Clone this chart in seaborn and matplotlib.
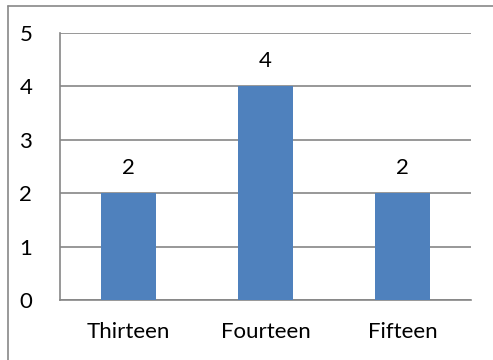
import matplotlib
matplotlib.use("Agg")
import matplotlib.pyplot as plt
import seaborn as sns
import pandas as pd
from matplotlib.lines import Line2D

categories = ["Thirteen", "Fourteen", "Fifteen"]
values = [2, 4, 2]
yticks = [0, 1, 2, 3, 4, 5]

sns.set_theme(style="white")
plt.rcParams['font.family'] = ['Lato', 'DejaVu Sans']

df = pd.DataFrame({"cat": categories, "val": values})

fig = plt.figure(figsize=(4.93, 3.6), dpi=100)
ax = fig.add_axes([60/493, 1-300/360, 411/493, 267/360])

sns.barplot(data=df, x="cat", y="val", color="#4F81BD", saturation=1, width=0.4,
            linewidth=0, edgecolor="none", ax=ax, zorder=3)

grey = "#868686"
fs = 16
ax.set_ylim(0, 5)
ax.set_xlim(-0.5, len(categories) - 0.5)
ax.set_yticks(yticks)
ax.set_yticklabels([str(t) for t in yticks])
ax.yaxis.grid(True, color=grey, lw=1.2, zorder=0)
ax.set_axisbelow(True)
ax.set_xlabel("")
ax.set_ylabel("")
for s in ["top", "right"]:
    ax.spines[s].set_visible(False)
for s in ["left", "bottom"]:
    ax.spines[s].set_color(grey)
    ax.spines[s].set_linewidth(1.2)

ax.set_xticks(range(len(categories)))
ax.set_xticklabels(categories)
ax.tick_params(axis="x", which="major", length=0, pad=16, labelsize=fs, colors="black")
ax.set_xticks([i - 0.5 for i in range(len(categories) + 1)], minor=True)
ax.tick_params(axis="x", which="minor", length=5, width=1.2, color=grey, direction="out")
ax.tick_params(axis="y", length=5, width=1.2, color=grey, direction="out", pad=15, labelsize=fs, labelcolor="black")

for cont in ax.containers:
    ax.bar_label(cont, labels=[str(v) for v in values], padding=11, fontsize=fs, color="black")

fig.add_artist(Line2D([7.5/493, 7.5/493], [0, 1-5.5/360], color="#888888", lw=1.2, transform=fig.transFigure))
fig.add_artist(Line2D([7.5/493, 1], [1-5.5/360, 1-5.5/360], color="#888888", lw=1.2, transform=fig.transFigure))

fig.savefig("out.png", dpi=100)
